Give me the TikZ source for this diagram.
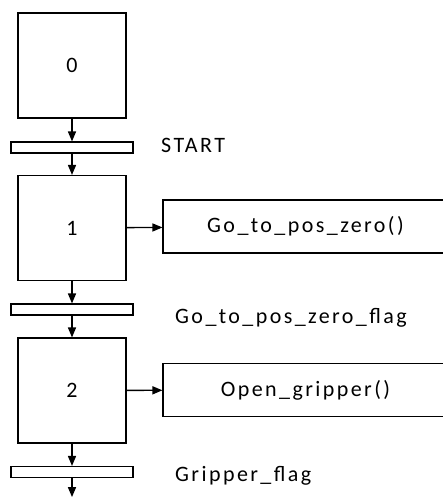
\documentclass[tikz,border=0pt]{standalone}
\usepackage{fontspec}
\setmainfont{Carlito}[LetterSpace=11]
\usetikzlibrary{arrows,positioning}

\begin{document}
\begin{tikzpicture}[x=1pt,y=-1pt,
    every node/.style={inner sep=0pt, font=\fontsize{22}{26}\selectfont},
    etape/.style={draw, line width=1.3pt, minimum width=108pt, minimum height=105pt},
    trans/.style={draw, line width=1.3pt, minimum width=122pt, minimum height=11pt},
    action/.style={draw, line width=1.3pt, minimum width=285pt, minimum height=53pt},
    fleche/.style={-triangle 45, line width=1.3pt}]
                \useasboundingbox (0,0) rectangle (442,497);
                % steps and transitions
                \node [etape] (e0) at (72,65.5) {0};
                \node [trans] (t1) at (72,147.5) {};
                \node [etape] (e1) at (72,228) {1};
                \node [trans] (t2) at (72,309.5) {};
                \node [etape] (e2) at (72,390.5) {2};
                \node [trans] (t3) at (72,472) {};
                \coordinate (fin) at (72,497);
                % actions
                \node [action] (a1) at (305.5,226.5) {Go\_to\_pos\_zero()};
                \node [action] (a2) at (305.5,390) {Open\_gripper()};
                % transition conditions
                \node [anchor=base west] (c1) at (161,153) {START};
                \node [anchor=base west] (c2) at (175,323) {Go\_to\_pos\_zero\_flag};
                \node [anchor=base west] (c3) at (175,481) {Gripper\_flag};
                % links
                \draw [fleche] (e0) -- (t1);
                \draw [fleche] (t1) -- (e1);
                \draw [fleche] (e1) -- (t2);
                \draw [fleche] (t2) -- (e2);
                \draw [fleche] (e2) -- (t3);
                \draw [fleche] (t3) -- (fin);
                \draw [fleche] (e1) -- (a1);
                \draw [fleche] (e2) -- (a2);
\end{tikzpicture}
\end{document}
